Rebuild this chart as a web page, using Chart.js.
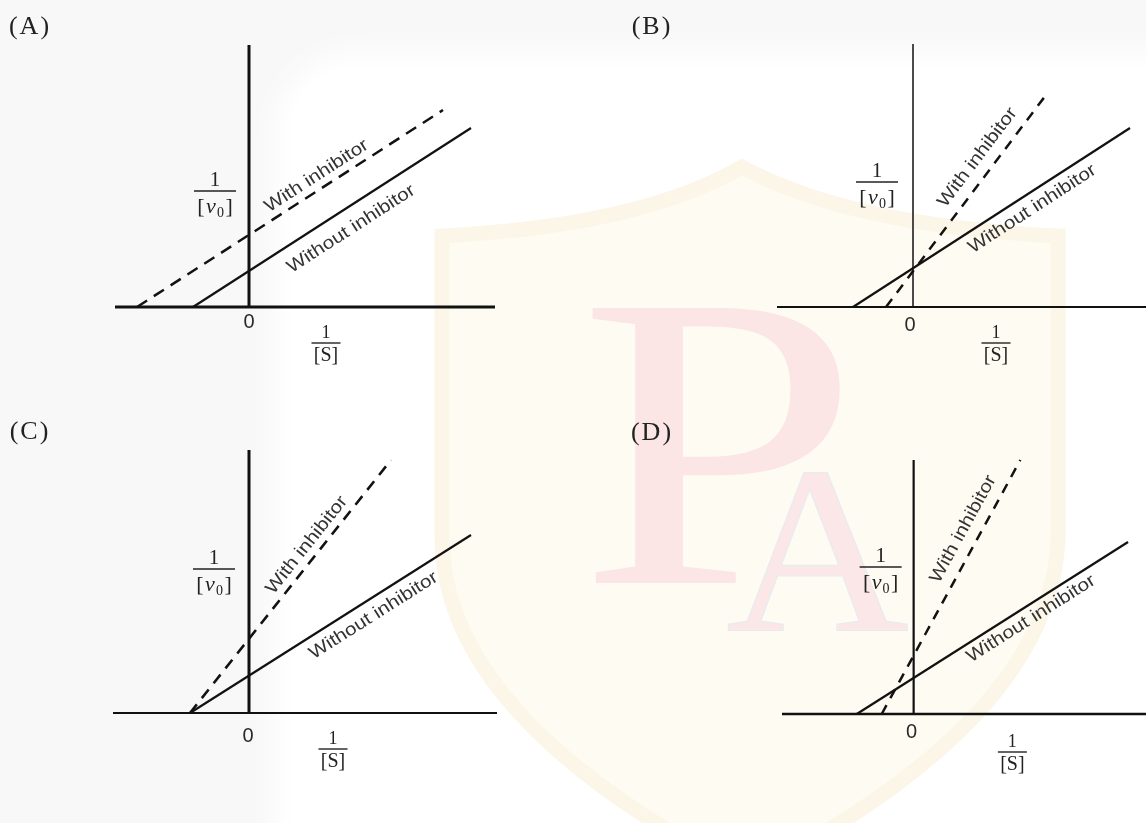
<!DOCTYPE html>
<html>
<head>
<meta charset="utf-8">
<title>Lineweaver-Burk plots</title>
<script src="https://cdn.jsdelivr.net/npm/chart.js@4.4.1/dist/chart.umd.min.js"></script>
<style>
    html, body { margin: 0; padding: 0; }
    body { width: 1146px; height: 823px; position: relative; overflow: hidden; background: #f8f8f8; }
    #sheet { position: absolute; left: 290px; top: 66px; width: 1000px; height: 900px; background: #fff;
             border-radius: 70px; box-shadow: 0 0 30px 16px #fff; }
    svg.mark { position: absolute; left: 0; top: 0; }
    canvas { position: absolute; }
</style>
</head>
<body>
<div id="sheet"></div>
<svg class="mark" width="1146" height="823">
    <path d="M442 236 Q640 226 742 167 Q850 226 1058 236 L1058 540 Q1050 720 748 875 Q445 720 442 540 Z"
          fill="#fefcf2" stroke="#fcf6e8" stroke-width="15"/>
    <text x="578" y="583" font-family="Liberation Serif" font-size="420" textLength="282"
          lengthAdjust="spacingAndGlyphs" fill="#fbe5e5">P</text>
    <text x="726" y="631" font-family="Liberation Serif" font-size="240" textLength="183"
          lengthAdjust="spacingAndGlyphs" fill="#fbe7e7" stroke="#e9ebf1" stroke-width="1.2">A</text>
</svg>
<canvas id="panelA" width="573" height="411" style="left:0px;top:0px"></canvas>
<canvas id="panelB" width="573" height="411" style="left:573px;top:0px"></canvas>
<canvas id="panelC" width="573" height="412" style="left:0px;top:411px"></canvas>
<canvas id="panelD" width="573" height="412" style="left:573px;top:411px"></canvas>
<script>
// values (1 unit ~ 100 px in every panel)
var panelTags = ['(A)', '(B)', '(C)', '(D)'];
var lineNames = ['Without inhibitor', 'With inhibitor'];
var zeroTick = '0';

// extent of the 1/[S] axis and top of the 1/v0 axis
var xAxisFrom = [-1.34, -1.36, -1.36, -1.32];
var xAxisTo = [2.46, 2.33, 2.48, 2.33];
var yAxisTo = [2.62, 2.63, 2.63, 2.54];

// without inhibitor (solid line): start / end
var withoutX = [[-0.56, 2.22], [-0.60, 2.17], [-0.59, 2.22], [-0.57, 2.15]];
var withoutY = [[0, 1.79], [0, 1.79], [0, 1.78], [0, 1.72]];

// with inhibitor (dashed line): start / end
var withX = [[-1.12, 1.94], [-0.27, 1.33], [-0.59, 1.42], [-0.32, 1.07]];
var withY = [[0, 1.97], [0, 2.12], [0, 2.53], [0, 2.54]];

// layout and look of each panel
var pads = [
    { left: 115, right: 78, top: 45, bottom: 104 },
    { left: 204, right: 0, top: 44, bottom: 104 },
    { left: 113, right: 76, top: 39, bottom: 110 },
    { left: 209, right: 0, top: 49, bottom: 109 }
];
var looks = [
    { xAxisW: 3, yAxisW: 3, solidW: 2.2, dashW: 2.5, dash: [12, 8] },
    { xAxisW: 2, yAxisW: 1.5, solidW: 2.2, dashW: 2.5, dash: [10, 8] },
    { xAxisW: 2, yAxisW: 3, solidW: 2.2, dashW: 2.6, dash: [11, 8] },
    { xAxisW: 2.5, yAxisW: 2.2, solidW: 2.2, dashW: 2.5, dash: [10, 8] }
];
var marks = [
    { tag: [30, 27], zero: [0, 15], sAt: 0.77, sGap: 36, vGap: 34, vAt: 1.16, withT: 0.61, withOff: 13, woT: 0.53, woOff: 20 },
    { tag: [79, 27], zero: [-3, 18], sAt: 0.83, sGap: 36, vGap: 36, vAt: 1.25, withT: 0.657, withOff: 17, woT: 0.618, woOff: 15 },
    { tag: [30, 21], zero: [-1, 23], sAt: 0.84, sGap: 36, vGap: 35, vAt: 1.44, withT: 0.632, withOff: 13, woT: 0.623, woOff: 16 },
    { tag: [79, 22], zero: [-2, 18], sAt: 0.99, sGap: 38, vGap: 33, vAt: 1.47, withT: 0.696, withOff: 17, woT: 0.617, woOff: 13 }
];

var serif = '"Liberation Serif", "Times New Roman", serif';
var sans = '"Liberation Sans", Arial, sans-serif';

function lineLabel(ctx, chart, xs, ys, t, off, side, text) {
    var x = chart.scales.x, y = chart.scales.y;
    var x0 = x.getPixelForValue(xs[0]), y0 = y.getPixelForValue(ys[0]);
    var x1 = x.getPixelForValue(xs[1]), y1 = y.getPixelForValue(ys[1]);
    var dx = x1 - x0, dy = y1 - y0, len = Math.sqrt(dx * dx + dy * dy);
    var ux = dx / len, uy = dy / len;
    // side -1 = above/left of the line, +1 = below/right
    var nx = side < 0 ? uy : -uy, ny = side < 0 ? -ux : ux;
    var cx = x0 + dx * t + nx * off, cy = y0 + dy * t + ny * off;
    ctx.save();
    ctx.translate(cx, cy);
    ctx.rotate(Math.atan2(dy, dx));
    ctx.scale(1.15, 1);
    ctx.font = '18px ' + sans;
    ctx.fillStyle = '#333';
    ctx.textAlign = 'center';
    ctx.textBaseline = 'middle';
    ctx.fillText(text, 0, 0);
    ctx.restore();
}

function fraction(ctx, cx, barY, barW, size, drawBottom) {
    ctx.strokeStyle = '#222';
    ctx.lineWidth = 1.4;
    ctx.beginPath();
    ctx.moveTo(cx - barW / 2, barY);
    ctx.lineTo(cx + barW / 2, barY);
    ctx.stroke();
    ctx.fillStyle = '#222';
    ctx.textAlign = 'center';
    ctx.textBaseline = 'alphabetic';
    ctx.font = size + 'px ' + serif;
    ctx.fillText('1', cx, barY - 5);
    drawBottom(cx, barY + 5 + size * 0.8);
}

function makePanel(i, id) {
    var look = looks[i], mk = marks[i];

    var textPlugin = {
        id: 'panelText' + i,
        afterDatasetsDraw: function (chart) {
            var ctx = chart.ctx, x = chart.scales.x, y = chart.scales.y;
            var ox = x.getPixelForValue(0), oy = y.getPixelForValue(0);
            ctx.save();

            // panel tag
            ctx.font = '26px ' + serif;
            ctx.fillStyle = '#222';
            ctx.textAlign = 'center';
            ctx.textBaseline = 'middle';
            if ('letterSpacing' in ctx) ctx.letterSpacing = '2px';
            ctx.fillText(panelTags[i], mk.tag[0], mk.tag[1]);
            if ('letterSpacing' in ctx) ctx.letterSpacing = '0px';

            // zero tick
            ctx.font = '20px ' + sans;
            ctx.fillStyle = '#2a2a2a';
            ctx.fillText(zeroTick, ox + mk.zero[0], oy + mk.zero[1]);

            // 1/[S]
            fraction(ctx, x.getPixelForValue(mk.sAt), oy + mk.sGap, 29, 18, function (cx, by) {
                ctx.font = '20px ' + serif;
                ctx.fillText('[S]', cx, by - 1);
            });

            // 1/[v0]
            fraction(ctx, ox - mk.vGap, y.getPixelForValue(mk.vAt), 42, 21, function (cx, by) {
                var big = '22px ' + serif, it = 'italic 22px ' + serif, small = '14px ' + serif;
                ctx.font = big;
                var wb = ctx.measureText('[').width;
                ctx.font = it;
                var wv = ctx.measureText('v').width;
                ctx.font = small;
                var w0 = ctx.measureText('0').width;
                var gap = 1.5;
                var total = wb * 2 + wv + w0 + gap * 2 + 1;
                var px = cx - total / 2;
                ctx.textAlign = 'left';
                ctx.font = big;
                ctx.fillText('[', px, by);
                px += wb + gap;
                ctx.font = it;
                ctx.fillText('v', px, by);
                px += wv + 1;
                ctx.font = small;
                ctx.fillText('0', px, by + 4);
                px += w0 + gap;
                ctx.font = big;
                ctx.fillText(']', px, by);
                ctx.textAlign = 'center';
            });

            // line labels
            lineLabel(ctx, chart, withX[i], withY[i], mk.withT, mk.withOff, -1, lineNames[1]);
            lineLabel(ctx, chart, withoutX[i], withoutY[i], mk.woT, mk.woOff, 1, lineNames[0]);
            ctx.restore();
        }
    };

    function pts(xs, ys) {
        return xs.map(function (v, k) { return { x: v, y: ys[k] }; });
    }

    return new Chart(document.getElementById(id), {
        type: 'scatter',
        data: {
            datasets: [
                {
                    label: '1/[S] axis',
                    data: pts([xAxisFrom[i], xAxisTo[i]], [0, 0]),
                    borderColor: '#111',
                    borderWidth: look.xAxisW
                },
                {
                    label: '1/v0 axis',
                    data: pts([0, 0], [0, yAxisTo[i]]),
                    borderColor: '#111',
                    borderWidth: look.yAxisW
                },
                {
                    label: lineNames[0],
                    data: pts(withoutX[i], withoutY[i]),
                    borderColor: '#121212',
                    borderWidth: look.solidW
                },
                {
                    label: lineNames[1],
                    data: pts(withX[i], withY[i]),
                    borderColor: '#121212',
                    borderWidth: look.dashW,
                    borderDash: look.dash
                }
            ].map(function (ds) {
                ds.showLine = true;
                ds.pointRadius = 0;
                ds.pointHoverRadius = 0;
                ds.fill = false;
                ds.clip = false;
                return ds;
            })
        },
        options: {
            responsive: false,
            animation: false,
            layout: { padding: pads[i] },
            scales: {
                x: { type: 'linear', display: false, min: xAxisFrom[i], max: xAxisTo[i] },
                y: { type: 'linear', display: false, min: 0, max: yAxisTo[i] }
            },
            plugins: {
                legend: { display: false },
                tooltip: { enabled: false }
            }
        },
        plugins: [textPlugin]
    });
}

makePanel(0, 'panelA');
makePanel(1, 'panelB');
makePanel(2, 'panelC');
makePanel(3, 'panelD');
</script>
</body>
</html>
